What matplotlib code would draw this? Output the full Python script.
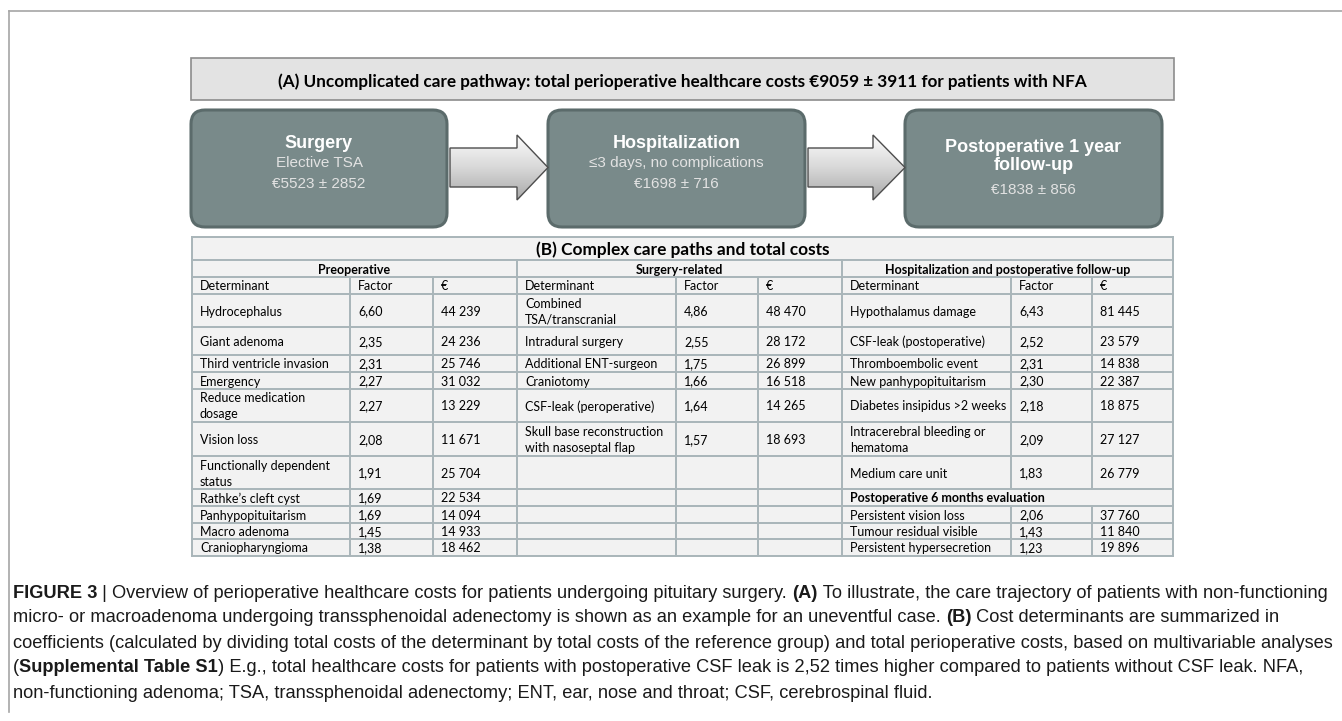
import numpy as np
import matplotlib
matplotlib.use("Agg")
import matplotlib.pyplot as plt
from matplotlib.patches import FancyBboxPatch, Polygon, Rectangle
from matplotlib.colors import LinearSegmentedColormap

# ---- data ----
header_a = "(A) Uncomplicated care pathway: total perioperative healthcare costs €9059 ± 3911 for patients with NFA"
steps = [["Surgery"], ["Hospitalization"], ["Postoperative 1 year", "follow-up"]]
step_sub = [["Elective TSA", "€5523 ± 2852"], ["≤3 days, no complications", "€1698 ± 716"], ["€1838 ± 856"]]

header_b = "(B) Complex care paths and total costs"
sections = ["Preoperative", "Surgery-related", "Hospitalization and postoperative follow-up"]
col_heads = ["Determinant", "Factor", "€"]

pre_names = ["Hydrocephalus", "Giant adenoma", "Third ventricle invasion", "Emergency",
             "Reduce medication\ndosage", "Vision loss", "Functionally dependent\nstatus",
             "Rathke’s cleft cyst", "Panhypopituitarism", "Macro adenoma", "Craniopharyngioma"]
pre_factor = ["6,60", "2,35", "2,31", "2,27", "2,27", "2,08", "1,91", "1,69", "1,69", "1,45", "1,38"]
pre_cost = ["44 239", "24 236", "25 746", "31 032", "13 229", "11 671", "25 704", "22 534",
            "14 094", "14 933", "18 462"]

surg_names = ["Combined\nTSA/transcranial", "Intradural surgery", "Additional ENT-surgeon",
              "Craniotomy", "CSF-leak (peroperative)", "Skull base reconstruction\nwith nasoseptal flap"]
surg_factor = ["4,86", "2,55", "1,75", "1,66", "1,64", "1,57"]
surg_cost = ["48 470", "28 172", "26 899", "16 518", "14 265", "18 693"]

hosp_names = ["Hypothalamus damage", "CSF-leak (postoperative)", "Thromboembolic event",
              "New panhypopituitarism", "Diabetes insipidus >2 weeks",
              "Intracerebral bleeding or\nhematoma", "Medium care unit"]
hosp_factor = ["6,43", "2,52", "2,31", "2,30", "2,18", "2,09", "1,83"]
hosp_cost = ["81 445", "23 579", "14 838", "22 387", "18 875", "27 127", "26 779"]

eval_title = "Postoperative 6 months evaluation"
eval_names = ["Persistent vision loss", "Tumour residual visible", "Persistent hypersecretion"]
eval_factor = ["2,06", "1,43", "1,23"]
eval_cost = ["37 760", "11 840", "19 896"]

caption = [
    [("FIGURE 3", True), (" | Overview of perioperative healthcare costs for patients undergoing pituitary surgery. ", False),
     ("(A)", True), (" To illustrate, the care trajectory of patients with non-functioning", False)],
    [("micro- or macroadenoma undergoing transsphenoidal adenectomy is shown as an example for an uneventful case. ", False),
     ("(B)", True), (" Cost determinants are summarized in", False)],
    [("coefficients (calculated by dividing total costs of the determinant by total costs of the reference group) "
      "and total perioperative costs, based on multivariable analyses", False)],
    [("(", False), ("Supplemental Table S1", True),
     (") E.g., total healthcare costs for patients with postoperative CSF leak is 2,52 times higher compared to patients without CSF leak. NFA,", False)],
    [("non-functioning adenoma; TSA, transsphenoidal adenectomy; ENT, ear, nose and throat; CSF, cerebrospinal fluid.", False)],
]

# ---- layout (pixels) ----
W, H = 1342, 721
fig = plt.figure(figsize=(W / 100, H / 100), dpi=100)
ax = fig.add_axes([0, 0, 1, 1])
ax.set_xlim(0, W)
ax.set_ylim(H, 0)
ax.axis("off")

tfont = "Lato"
afont = "Liberation Sans"
grid_c = "#a9b5b9"

# outer frame
ax.plot([9, W], [11, 11], color="#a6a6a6", lw=1.2)
ax.plot([9, 9], [11, 712], color="#a6a6a6", lw=1.2)

# (A) header bar
ax.add_patch(Rectangle((191, 58), 983, 42, facecolor="#e3e3e3", edgecolor="#8c8c8c", lw=1.2))
ax.text(682, 80, header_a, ha="center", va="center_baseline", fontsize=12.3, fontweight="bold",
        family=tfont, color="black")

# step boxes
box_x = [(191, 447), (548, 805), (905, 1162)]
for (x0, x1), title, sub in zip(box_x, steps, step_sub):
    ax.add_patch(FancyBboxPatch((x0, 110), x1 - x0, 117, boxstyle="round,pad=0,rounding_size=14",
                                facecolor="#798a8a", edgecolor="#5b6b6b", lw=2.2))
    cx = (x0 + x1) / 2
    if len(title) == 1:
        ax.text(cx, 144, title[0], ha="center", va="center", fontsize=13, fontweight="bold",
                family=afont, color="white")
        for i, s in enumerate(sub):
            ax.text(cx, 163 + 21 * i, s, ha="center", va="center", fontsize=11,
                    family=afont, color="#e2e2e2")
    else:
        ax.text(cx, 147, title[0], ha="center", va="center", fontsize=13, fontweight="bold",
                family=afont, color="white")
        ax.text(cx, 165, title[1], ha="center", va="center", fontsize=13, fontweight="bold",
                family=afont, color="white")
        ax.text(cx, 190, sub[0], ha="center", va="center", fontsize=11,
                family=afont, color="#e2e2e2")

# gradient arrows
cmap = LinearSegmentedColormap.from_list("arr", ["#fbfbfb", "#d8d8d8", "#a9a9a9"])
grad = np.linspace(0, 1, 100).reshape(-1, 1)
for xa, xh, xt in [(450, 517, 548), (808, 873, 905)]:
    pts = [(xa, 148), (xh, 148), (xh, 135), (xt, 167.5), (xh, 200), (xh, 187), (xa, 187)]
    poly = Polygon(pts, closed=True, facecolor="none", edgecolor="#4d4d4d", lw=1.0, zorder=3)
    ax.add_patch(poly)
    im = ax.imshow(grad, extent=[xa, xt, 200, 135], origin="upper", cmap=cmap,
                   aspect="auto", zorder=2)
    im.set_clip_path(poly)
ax.set_xlim(0, W)
ax.set_ylim(H, 0)

# ---- table (B) ----
tx0, tx1 = 192, 1173
ty0, ty_title, ty_sec, ty_head = 237, 260, 277, 294
row_h = [33, 28, 17, 17, 33, 34, 33, 17, 17, 16, 17]
row_y = np.concatenate([[ty_head], ty_head + np.cumsum(row_h)])
ty1 = row_y[-1]
sec_x = [(192, 350, 433, 517), (517, 676, 758, 842), (842, 1011, 1092, 1173)]

ax.add_patch(Rectangle((tx0, ty0), tx1 - tx0, ty1 - ty0, facecolor="#f2f2f2",
                       edgecolor="none", zorder=1))
lw = 1.4
for y in [ty0, ty_title, ty_sec, ty_head] + list(row_y[1:]):
    ax.plot([tx0, tx1], [y, y], color=grid_c, lw=lw, zorder=2)
ax.plot([tx0, tx0], [ty0, ty1], color=grid_c, lw=lw, zorder=2)
ax.plot([tx1, tx1], [ty0, ty1], color=grid_c, lw=lw, zorder=2)
for xs in [517, 842]:
    ax.plot([xs, xs], [ty_title, ty1], color=grid_c, lw=lw, zorder=2)
eval_row = 7
for si, (a, b, c, d) in enumerate(sec_x):
    for xc in (b, c):
        if si == 2:
            ax.plot([xc, xc], [ty_sec, row_y[eval_row]], color=grid_c, lw=lw, zorder=2)
            ax.plot([xc, xc], [row_y[eval_row + 1], ty1], color=grid_c, lw=lw, zorder=2)
        else:
            ax.plot([xc, xc], [ty_sec, ty1], color=grid_c, lw=lw, zorder=2)

ax.text((tx0 + tx1) / 2, (ty0 + ty_title) / 2, header_b, ha="center", va="center_baseline",
        fontsize=12.4, fontweight="bold", family=tfont)

fs = 9.0
pad = 8
for si, name in enumerate(sections):
    a, b, c, d = sec_x[si]
    ax.text((a + d) / 2, (ty_title + ty_sec) / 2, name, ha="center", va="center_baseline",
            fontsize=fs, fontweight="bold", family=tfont)
    for xc, h in zip((a, b, c), col_heads):
        ax.text(xc + pad, (ty_sec + ty_head) / 2, h, ha="left", va="center_baseline",
                fontsize=fs, family=tfont)


def fill_rows(x_cols, rows, start):
    for i, vals in enumerate(rows):
        yc = (row_y[start + i] + row_y[start + i + 1]) / 2
        for xc, v in zip(x_cols, vals):
            if "\n" in v:
                l1, l2 = v.split("\n")
                ax.text(xc + pad, yc - 8, l1, ha="left", va="center_baseline", fontsize=fs, family=tfont)
                ax.text(xc + pad, yc + 8, l2, ha="left", va="center_baseline", fontsize=fs, family=tfont)
            else:
                ax.text(xc + pad, yc, v, ha="left", va="center_baseline", fontsize=fs, family=tfont)


fill_rows(sec_x[0][:3], list(zip(pre_names, pre_factor, pre_cost)), 0)
fill_rows(sec_x[1][:3], list(zip(surg_names, surg_factor, surg_cost)), 0)
fill_rows(sec_x[2][:3], list(zip(hosp_names, hosp_factor, hosp_cost)), 0)
ax.text(sec_x[2][0] + pad, (row_y[eval_row] + row_y[eval_row + 1]) / 2, eval_title,
        ha="left", va="center_baseline", fontsize=fs, fontweight="bold", family=tfont)
fill_rows(sec_x[2][:3], list(zip(eval_names, eval_factor, eval_cost)), eval_row + 1)

# ---- caption ----
renderer = fig.canvas.get_renderer()
cap_y = [591, 616, 641, 666, 691]
for y, segs in zip(cap_y, caption):
    x = 13
    for s, bold in segs:
        t = ax.text(x, y, s, ha="left", va="center_baseline", fontsize=13.15, family=afont,
                    fontweight="bold" if bold else "normal", color="#1a1a1a")
        bb = t.get_window_extent(renderer)
        x += bb.width

fig.savefig("out.png", dpi=100)
